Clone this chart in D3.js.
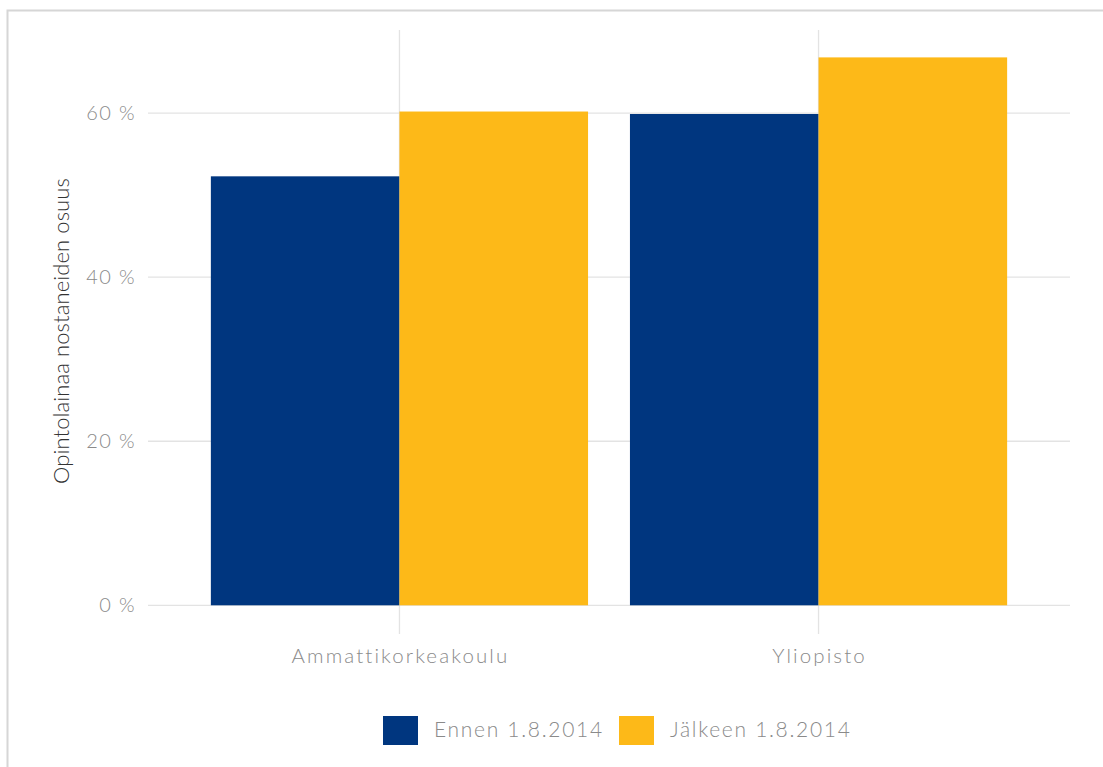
<!DOCTYPE html>
<html><head><meta charset="utf-8">
<script src="https://cdn.jsdelivr.net/npm/d3@7"></script>
<style>body{margin:0;background:#fff}svg{display:block}text{font-family:Lato,"Noto Sans",sans-serif}</style>
</head><body><svg id="c" width="1103" height="767"></svg>
<script>
const categories = ["Ammattikorkeakoulu", "Yliopisto"];
const seriesNames = ["Ennen 1.8.2014", "Jälkeen 1.8.2014"];
const ennen = [52.3, 59.9];
const jalkeen = [60.2, 66.8];
const yTicks = [0, 20, 40, 60];
const colors = ["#00367f", "#fdb918"];

const svg = d3.select("#c");
svg.append("rect").attr("x", 7.5).attr("y", 10.5).attr("width", 1110).attr("height", 800)
  .attr("fill", "none").attr("stroke", "#d6d6d6").attr("stroke-width", 2);

const pl = 148, pr = 1070, pt = 30, pb = 634;
const y = d3.scaleLinear().domain([-3.5, 66.8 * 1.05]).range([pb, pt]);
const xc = d3.scaleLinear().domain([0.4, 2.6]).range([pl, pr]);
const bandW = xc(1.9) - xc(1);
const xs = d3.scaleBand().domain(seriesNames).range([0, bandW]).padding(0);

const g = svg.append("g");
g.selectAll("line.h").data(yTicks).join("line")
  .attr("x1", pl).attr("x2", pr).attr("y1", d => y(d)).attr("y2", d => y(d))
  .attr("stroke", "#e3e3e3").attr("stroke-width", 1.3);
g.selectAll("line.v").data(categories).join("line")
  .attr("x1", (d, i) => xc(i + 1)).attr("x2", (d, i) => xc(i + 1))
  .attr("y1", pt).attr("y2", pb).attr("stroke", "#e3e3e3").attr("stroke-width", 1.3);

categories.forEach((c, i) => {
  [ennen[i], jalkeen[i]].forEach((v, j) => {
    g.append("rect")
      .attr("x", xc(i + 1) - bandW / 2 + xs(seriesNames[j]))
      .attr("width", xs.bandwidth())
      .attr("y", y(v)).attr("height", y(0) - y(v))
      .attr("fill", colors[j]);
  });
});

g.selectAll("text.yt").data(yTicks).join("text")
  .attr("x", 136).attr("y", d => y(d)).attr("dy", "0.35em")
  .attr("text-anchor", "end").attr("fill", "#8a8a8a")
  .attr("font-size", 20).attr("letter-spacing", 1.4).attr("font-weight", 300).text(d => d + " %");
g.selectAll("text.xt").data(categories).join("text")
  .attr("x", (d, i) => xc(i + 1) + 1).attr("y", 663)
  .attr("text-anchor", "middle").attr("fill", "#8a8a8a")
  .attr("font-size", 20.5).attr("letter-spacing", 2.1).attr("font-weight", 300).text(d => d);
svg.append("text").attr("transform", `translate(69,331) rotate(-90)`)
  .attr("text-anchor", "middle").attr("fill", "#333").attr("font-size", 22)
  .attr("letter-spacing", 0.1).attr("font-weight", 300).text("Opintolainaa nostaneiden osuus");

const leg = svg.append("g");
const lx = [383, 619];
seriesNames.forEach((s, j) => {
  leg.append("rect").attr("x", lx[j]).attr("y", 716).attr("width", 35).attr("height", 29).attr("fill", colors[j]);
  leg.append("text").attr("x", lx[j] + 51).attr("y", 737)
    .attr("fill", "#8a8a8a").attr("font-size", 21).attr("letter-spacing", 1.7).attr("font-weight", 300).text(s);
});
</script></body></html>
